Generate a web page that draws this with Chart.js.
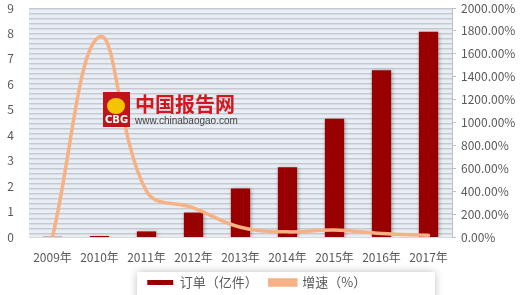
<!DOCTYPE html>
<html>
<head>
<meta charset="utf-8">
<script src="https://cdn.jsdelivr.net/npm/chart.js@4/dist/chart.umd.min.js"></script>
<style>
    html, body { margin: 0; padding: 0; background: #fff; }
    #wrap { width: 520px; height: 295px; }
</style>
</head>
<body>
<div id="wrap"><canvas id="orderChart" width="520" height="295"></canvas></div>
<script>
const years = ["2009年", "2010年", "2011年", "2012年", "2013年", "2014年", "2015年", "2016年", "2017年"];
const orders = [0.01, 0.04, 0.22, 0.96, 1.91, 2.74, 4.65, 6.55, 8.07];
const growth = [0, 1750, 400, 255, 85, 45, 62, 30, 15];
const seriesNames = ["订单（亿件）", "增速（%）"];

const FONT = "'Noto Sans CJK SC', 'Noto Sans', sans-serif";
const TEXT = "#595959";

document.addEventListener("DOMContentLoaded", () => {
    const canvas = document.getElementById("orderChart");

    // striped plot background, like the excel pattern fill
    function makeStripes(ctx) {
        const p = document.createElement("canvas");
        p.width = 4;
        p.height = 5;
        const c = p.getContext("2d");
        c.fillStyle = "#e8eef5";
        c.fillRect(0, 0, 4, 5);
        c.fillStyle = "#c6cace";
        c.fillRect(0, 0, 4, 1);
        c.fillStyle = "#d9dde2";
        c.fillRect(0, 1, 4, 1);
        return ctx.createPattern(p, "repeat");
    }

    // keep the vertical axes from pushing the plot down
    function tightY(s, w) {
        s.width = w;
        s.paddingTop = 8;
        s.paddingBottom = 0;
    }

    const backdrop = {
        id: "backdrop",
        beforeDraw(chart) {
            const { ctx, chartArea: a } = chart;
            ctx.save();
            ctx.translate(a.left, a.top);
            ctx.fillStyle = makeStripes(ctx);
            ctx.fillRect(0, 0, a.right - a.left, a.bottom - a.top);
            ctx.restore();

            // legend frame with soft shadow
            const lg = chart.legend;
            ctx.save();
            ctx.shadowColor = "rgba(0,0,0,0.25)";
            ctx.shadowBlur = 8;
            ctx.fillStyle = "#fff";
            ctx.fillRect(137, lg.top + 8, 298, 40);
            ctx.restore();
        },
        beforeDatasetDraw(chart, args) {
            if (args.meta.type === "bar") {
                const ctx = chart.ctx;
                ctx.save();
                ctx.shadowColor = "rgba(0,0,0,0.35)";
                ctx.shadowBlur = 4;
                ctx.shadowOffsetX = 1;
                ctx.shadowOffsetY = 1;
            }
        },
        afterDatasetDraw(chart, args) {
            if (args.meta.type === "bar") chart.ctx.restore();
        },
        afterDraw(chart) {
            // watermark
            const { ctx, chartArea: a } = chart;
            const x = a.left + 74, y = a.top + 84;
            ctx.save();
            ctx.fillStyle = "#c0141b";
            ctx.fillRect(x, y, 27, 35);
            ctx.fillStyle = "#f5c400";
            ctx.beginPath();
            ctx.ellipse(x + 13, y + 14, 9, 8, 0, 0, Math.PI * 2);
            ctx.fill();
            ctx.fillStyle = "#fff";
            ctx.font = "bold 10px 'DejaVu Sans', sans-serif";
            ctx.textAlign = "center";
            ctx.textBaseline = "middle";
            ctx.fillText("CBG", x + 13.5, y + 28);
            ctx.textAlign = "left";
            ctx.fillStyle = "#d4171e";
            ctx.font = "bold 20px 'Noto Sans CJK SC', sans-serif";
            ctx.fillText("中国报告网", x + 32, y + 12);
            ctx.fillStyle = "#444";
            ctx.font = "10px 'Liberation Sans', sans-serif";
            ctx.fillText("www.chinabaogao.com", x + 32, y + 29);
            ctx.restore();
        },
    };

    new Chart(canvas, {
        type: "bar",
        data: {
            labels: years,
            datasets: [
                {
                    label: seriesNames[0],
                    data: orders,
                    backgroundColor: "#990000",
                    borderColor: "#990000",
                    borderWidth: 0,
                    categoryPercentage: 1,
                    barPercentage: 0.41,
                    yAxisID: "y",
                    order: 2,
                },
                {
                    type: "line",
                    label: seriesNames[1],
                    data: growth,
                    borderColor: "#f7b185",
                    backgroundColor: "#f7b185",
                    borderWidth: 3.5,
                    borderCapStyle: "round",
                    pointRadius: 0,
                    tension: 0.4,
                    yAxisID: "y1",
                    order: 1,
                },
            ],
        },
        options: {
            responsive: false,
            animation: false,
            layout: { padding: 0 },
            plugins: {
                tooltip: { enabled: false },
                legend: {
                    position: "bottom",
                    maxHeight: 31,
                    labels: {
                        boxWidth: 26,
                        boxHeight: 5,
                        padding: 12,
                        color: TEXT,
                        font: { family: FONT, size: 13 },
                        sort: (a, b) => a.datasetIndex - b.datasetIndex,
                        generateLabels(chart) {
                            const items = Chart.defaults.plugins.legend.labels.generateLabels(chart);
                            items[0].text += "\u2002";
                            return items;
                        },
                    },
                },
            },
            scales: {
                x: {
                    grid: { display: false },
                    border: { display: true, color: "#d9d9d9" },
                    ticks: { color: TEXT, font: { family: FONT, size: 12 }, padding: 5, maxRotation: 0 },
                    afterFit(s) { s.height = 27; },
                },
                y: {
                    position: "left",
                    min: 0,
                    max: 9,
                    grid: { display: false, drawTicks: false },
                    border: { display: false },
                    ticks: { stepSize: 1, color: TEXT, font: { family: FONT, size: 12 }, padding: 15 },
                    afterFit(s) { tightY(s, 29); },
                },
                y1: {
                    position: "right",
                    min: 0,
                    max: 2000,
                    grid: { drawOnChartArea: false, drawTicks: true, tickLength: 4, color: "#bfbfbf" },
                    border: { display: true, color: "#bfbfbf" },
                    ticks: {
                        stepSize: 200,
                        color: TEXT,
                        font: { family: FONT, size: 12 },
                        padding: 5,
                        callback: (v) => v.toFixed(2) + "%",
                    },
                    afterFit(s) { tightY(s, 68); },
                },
            },
        },
        plugins: [backdrop],
    });
});
</script>
</body>
</html>
